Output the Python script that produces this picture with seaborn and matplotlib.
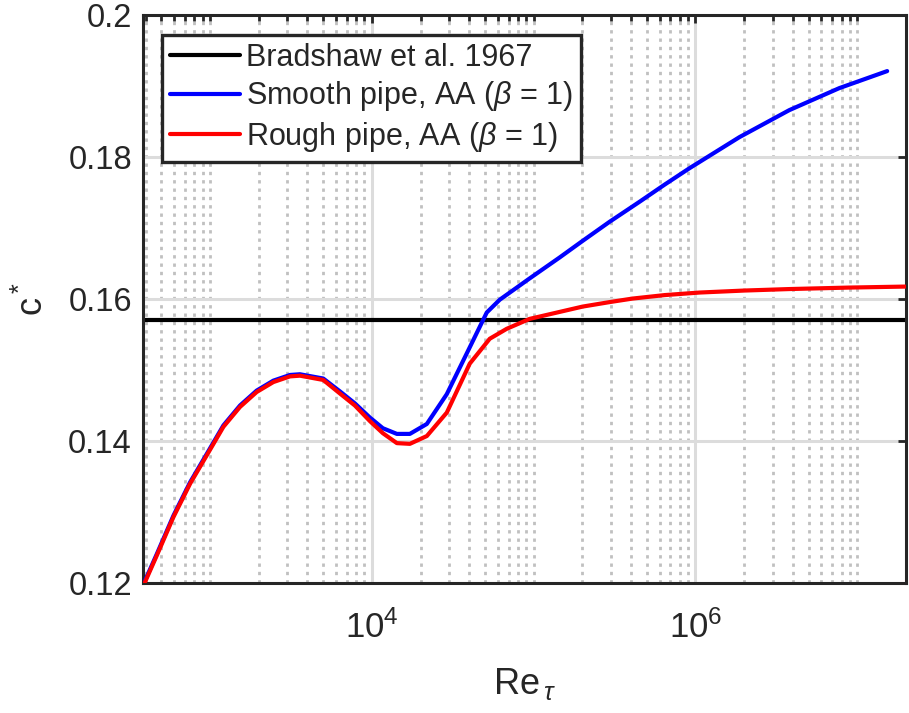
import numpy as np
import pandas as pd
import matplotlib
matplotlib.use("Agg")
import matplotlib.pyplot as plt
import matplotlib.ticker as mticker
import seaborn as sns

# ---- data ----
smooth_re = [388.6, 469, 594, 753, 955, 1209, 1531, 1941, 2460, 3119, 3594, 5004,
             6338, 7850, 9725, 11690, 14270, 17170, 21860, 29040, 40270, 51290,
             61700, 94400, 144700, 200500, 294300, 450800, 643700, 918000, 1.87e6,
             3.80e6, 7.74e6, 1.53e7]
smooth_c = [0.1199, 0.1241, 0.1295, 0.1342, 0.1382, 0.1422, 0.1450, 0.1471, 0.1485,
            0.1493, 0.1494, 0.1488, 0.1470, 0.1453, 0.1433, 0.1418, 0.1410, 0.1410,
            0.1424, 0.1466, 0.1532, 0.1581, 0.1599, 0.1629, 0.16585, 0.16818,
            0.17087, 0.17369, 0.17610, 0.17842, 0.1828, 0.1866, 0.1897, 0.1921]
rough_re = [388.6, 469, 594, 753, 955, 1209, 1531, 1941, 2460, 3119, 3594, 5004,
            6338, 7850, 9725, 11690, 14270, 17170, 21860, 29040, 40270, 53500,
            68100, 94400, 200500, 294000, 408000, 644000, 1.06e6, 2.0e6, 3.8e6,
            8.93e6, 1.98e7]
rough_c = [0.1197, 0.1239, 0.1293, 0.1340, 0.1380, 0.1420, 0.1448, 0.1469, 0.1483,
           0.1491, 0.1492, 0.1486, 0.1467, 0.1450, 0.1428, 0.1411, 0.1397, 0.1396,
           0.1407, 0.1440, 0.1509, 0.1544, 0.1558, 0.1572, 0.15893, 0.15956,
           0.16006, 0.16055, 0.16091, 0.16119, 0.16140, 0.16161, 0.16175]
bradshaw_c = 0.157

label_bradshaw = "Bradshaw et al. 1967"
label_smooth = r"Smooth pipe, AA ($\beta$ = 1)"
label_rough = r"Rough pipe, AA ($\beta$ = 1)"

x_major = [1e4, 1e6]
y_ticks = [0.12, 0.14, 0.16, 0.18, 0.2]
x_lim = (385, 2e7)
y_lim = (0.12, 0.2)

df = pd.concat([
    pd.DataFrame({"Re": smooth_re, "c": smooth_c, "series": label_smooth}),
    pd.DataFrame({"Re": rough_re, "c": rough_c, "series": label_rough}),
], ignore_index=True)

# ---- style ----
sns.set_style("white")
plt.rcParams["font.family"] = ["Liberation Sans", "DejaVu Sans"]
plt.rcParams["mathtext.fontset"] = "custom"
plt.rcParams["mathtext.rm"] = "Liberation Sans"
plt.rcParams["mathtext.it"] = "Liberation Sans:italic"
plt.rcParams["mathtext.bf"] = "Liberation Sans:bold"

dark = "#262626"

fig = plt.figure(figsize=(9.09, 7.13), dpi=100)
ax = fig.add_axes([143 / 909, 1 - 583 / 713, (906 - 143) / 909, (583 - 15) / 713])

h_brad = ax.axhline(bradshaw_c, color="black", lw=3, zorder=2, label=label_bradshaw)
sns.lineplot(data=df, x="Re", y="c", hue="series", estimator=None, sort=False,
             palette={label_smooth: "#0000ff", label_rough: "#ff0000"},
             hue_order=[label_smooth, label_rough], linewidth=3, ax=ax, zorder=3)

ax.set_xscale("log")
ax.set_xlim(*x_lim)
ax.set_ylim(*y_lim)

ax.xaxis.set_major_locator(mticker.FixedLocator(x_major))
minor = [m * 10.0 ** k for k in range(2, 8) for m in range(1, 10)]
minor = [v for v in minor if x_lim[0] <= v <= x_lim[1] and v not in x_major]
ax.xaxis.set_minor_locator(mticker.FixedLocator(minor))
ax.xaxis.set_major_formatter(mticker.LogFormatterSciNotation())
ax.xaxis.set_minor_formatter(mticker.NullFormatter())
ax.yaxis.set_major_locator(mticker.FixedLocator(y_ticks))
ax.yaxis.set_major_formatter(mticker.FuncFormatter(lambda v, p: f"{v:g}"))
ax.yaxis.set_minor_locator(mticker.NullLocator())

ax.grid(True, which="major", color="#dcdcdc", lw=2.2, zorder=0)
ax.grid(True, which="minor", axis="x", color="#c0c0c0", lw=2.0,
        linestyle=(0, (1.2, 1.8)))
ax.set_axisbelow(True)

for s in ax.spines.values():
    s.set_linewidth(2.2)
    s.set_color(dark)
    s.set_visible(True)

ax.tick_params(which="both", direction="in", top=True, right=True,
               color=dark, width=2, labelcolor=dark)
ax.tick_params(which="major", length=6, labelsize=23.5, pad=8)
ax.tick_params(which="minor", length=4)
ax.tick_params(axis="x", which="major", labelsize=25, pad=20)

ax.set_xlabel(r"Re$_{\,\tau}$", fontsize=26, color=dark, labelpad=15)
ax.set_ylabel(r"c$^*$", fontsize=26, color=dark, labelpad=12)

handles, labels = ax.get_legend_handles_labels()
hmap = dict(zip(labels, handles))
leg = ax.legend([h_brad, hmap[label_smooth], hmap[label_rough]],
                [label_bradshaw, label_smooth, label_rough],
                loc="upper left", bbox_to_anchor=(0.0249, 0.9648), borderaxespad=0,
                fontsize=22, frameon=True, fancybox=False, framealpha=1,
                handlelength=2.3, handletextpad=0.2, borderpad=0.25,
                labelspacing=0.22)
leg.get_frame().set_edgecolor(dark)
leg.get_frame().set_linewidth(2.4)
for line in leg.get_lines():
    line.set_linewidth(3)
leg.set_zorder(5)

fig.savefig("out.png", dpi=100)
